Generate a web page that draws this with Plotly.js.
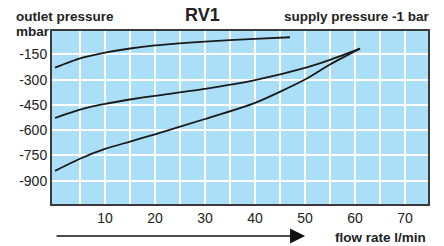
<!DOCTYPE html>
<html>
<head>
<meta charset="utf-8">
<script src="https://cdn.plot.ly/plotly-3.0.1.min.js"></script>
<style>html,body{margin:0;padding:0;background:#fff;}#chart{width:444px;height:246px;}</style>
</head>
<body>
<div id="chart"></div>
<script>
// Flow rate (l/min) and outlet pressure (mbar)
var topFlow = [0, 5, 10, 15, 20, 30, 40, 47];
var topPressure = [-229, -174, -140, -115, -97, -74, -58, -48];

var midFlow = [0, 5, 10, 15, 20, 30, 40, 50, 55, 61];
var midPressure = [-528, -478, -444, -418, -396, -355, -303, -230, -182, -116];

var lowFlow = [0, 5, 10, 15, 20, 30, 40, 50, 55, 61];
var lowPressure = [-842, -770, -712, -668, -625, -534, -438, -299, -210, -116];

var xTickVals = [5, 10, 15, 20, 25, 30, 35, 40, 45, 50, 55, 60, 65, 70];
var xTickText = ['', '10', '', '20', '', '30', '', '40', '', '50', '', '60', '', '70'];
var yTickVals = [-150, -300, -450, -600, -750, -900];
var yTickText = ['-150', '-300', '-450', '-600', '-750', '-900'];

var lineStyle = {color: '#1a1a1a', width: 1.8, shape: 'spline', smoothing: 0.7};
var traces = [
  {x: topFlow, y: topPressure, mode: 'lines', line: lineStyle, hoverinfo: 'skip'},
  {x: midFlow, y: midPressure, mode: 'lines', line: lineStyle, hoverinfo: 'skip'},
  {x: lowFlow, y: lowPressure, mode: 'lines', line: lineStyle, hoverinfo: 'skip'}
];

var fam = 'Liberation Sans, Arial, sans-serif';
var font = {family: fam, size: 14, color: '#222'};
var bold = {family: fam, size: 13.5, color: '#222', weight: 'bold'};

var layout = {
  width: 444, height: 246,
  margin: {l: 52, r: 16, t: 31, b: 42},
  paper_bgcolor: '#ffffff',
  plot_bgcolor: '#aadff7',
  showlegend: false,
  font: font,
  xaxis: {
    range: [-0.6, 74.6], tickmode: 'array', tickvals: xTickVals, ticktext: xTickText,
    showgrid: true, gridcolor: '#ffffff', gridwidth: 2, zeroline: false,
    showline: true, linecolor: '#3a3a3a', linewidth: 2, mirror: true,
    ticks: '', tickfont: font
  },
  yaxis: {
    range: [-1039, -11], tickmode: 'array', tickvals: yTickVals, ticktext: yTickText,
    showgrid: true, gridcolor: '#ffffff', gridwidth: 2, zeroline: false,
    showline: true, linecolor: '#3a3a3a', linewidth: 2, mirror: true,
    ticks: '', tickfont: font
  },
  annotations: [
    {text: 'outlet pressure', xref: 'paper', yref: 'paper', x: -0.1, y: 1.085, xanchor: 'left', yanchor: 'middle', showarrow: false, font: bold},
    {text: 'mbar', xref: 'paper', yref: 'paper', x: -0.1, y: 1.0, xanchor: 'left', yanchor: 'middle', showarrow: false, font: bold},
    {text: 'RV1', xref: 'paper', yref: 'paper', x: 0.399, y: 1.09, xanchor: 'center', yanchor: 'middle', showarrow: false, font: {family: fam, size: 18, color: '#222', weight: 'bold'}},
    {text: 'supply pressure -1 bar', xref: 'paper', yref: 'paper', x: 1.01, y: 1.085, xanchor: 'right', yanchor: 'middle', showarrow: false, font: bold},
    {text: 'flow rate l/min', xref: 'paper', yref: 'paper', x: 1.0, y: -0.195, xanchor: 'right', yanchor: 'middle', showarrow: false, font: bold},
    {text: '', xref: 'paper', yref: 'paper', x: 0.673, y: -0.185, axref: 'pixel', ayref: 'pixel', ax: -250, ay: 0,
     showarrow: true, arrowhead: 2, arrowsize: 2, arrowwidth: 1.5, arrowcolor: '#111'}
  ]
};

Plotly.newPlot('chart', traces, layout, {staticPlot: true, displayModeBar: false});
</script>
</body>
</html>
